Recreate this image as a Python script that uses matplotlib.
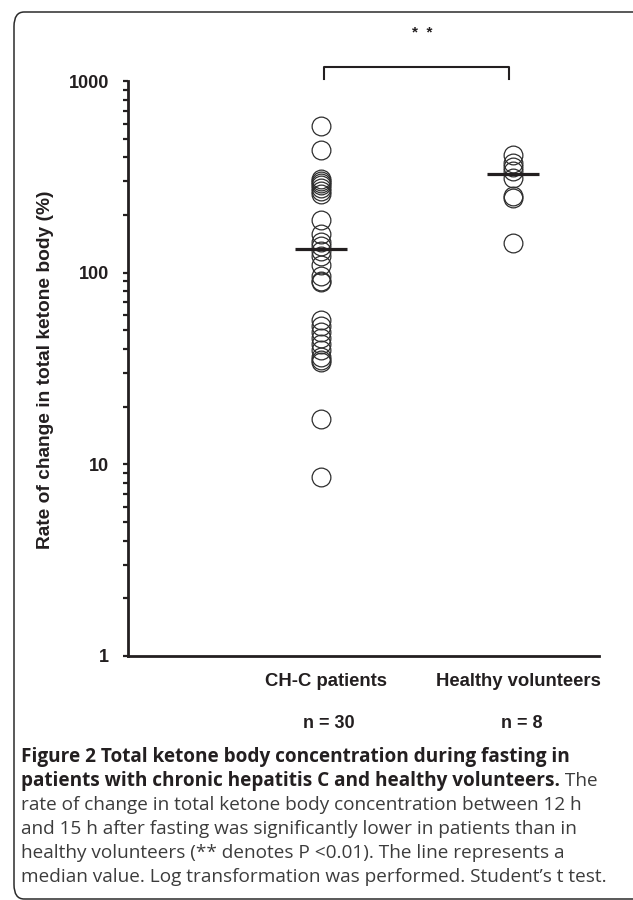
import numpy as np
import matplotlib
matplotlib.use('Agg')
import matplotlib.pyplot as plt
from matplotlib.patches import FancyBboxPatch

# values (rate of change, %)
groups = ['CH-C patients', 'Healthy volunteers']
group_n = ['n = 30', 'n = 8']
chc_values = [582, 436,
              308, 300, 293, 285, 276, 267, 257,
              188, 159, 144, 137, 130, 122, 109, 96, 91, 89,
              56.5, 52.6, 48.9, 45.5, 42.4, 39.4, 36.5, 35.0, 34.1,
              17.2, 8.55]
healthy_values = [411, 373, 356, 339, 311, 251, 245, 143]
medians = [133, 327]
y_ticks = [1, 10, 100, 1000]

caption_bold_1 = 'Figure 2 Total ketone body concentration during fasting in'
caption_bold_2 = 'patients with chronic hepatitis C and healthy volunteers.'
caption_rest = [' The',
                'rate of change in total ketone body concentration between 12 h',
                'and 15 h after fasting was significantly lower in patients than in',
                'healthy volunteers (** denotes P <0.01). The line represents a',
                'median value. Log transformation was performed. Student\u2019s t test.']

W, H = 633, 900
DARK = '#231f20'

plt.rcParams['font.family'] = ['Liberation Sans', 'DejaVu Sans']

fig = plt.figure(figsize=(W / 100, H / 100), dpi=100)


def fx(px):
    return px / W


def fy(py):
    return 1 - py / H


# rounded frame round the figure and caption
frame = FancyBboxPatch((fx(14), fy(899)), fx(650) - fx(14), fy(12) - fy(899),
                       boxstyle='round,pad=0,rounding_size=0.016',
                       transform=fig.transFigure, facecolor='none',
                       edgecolor='#2b2b2b', linewidth=1.1)
fig.patches.append(frame)

ax = fig.add_axes([fx(128), fy(656), fx(599) - fx(128), fy(81) - fy(656)])
ax.set_yscale('log')
ax.set_ylim(1, 1000)
ax.set_xlim(0, 2.445)

positions = [1, 2]
for pos, vals, med in zip(positions, [chc_values, healthy_values], medians):
    ax.plot([pos] * len(vals), vals, linestyle='none', marker='o', markersize=13.5,
            markerfacecolor='none', markeredgecolor='#2e2e2e', markeredgewidth=0.9,
            clip_on=False)
    ax.plot([pos - 0.135, pos + 0.135], [med, med], color=DARK, linewidth=2.3,
            solid_capstyle='butt', zorder=5)

# significance bracket
ax.plot([1.02, 1.02, 1.98, 1.98], [1024, 1183, 1183, 1024], color=DARK,
        linewidth=1.5, clip_on=False)
ax.text(1.53, 1780, '*  *', ha='center', va='center', fontsize=11,
        fontweight='bold', color=DARK)

for side in ['top', 'right']:
    ax.spines[side].set_visible(False)
for side in ['left', 'bottom']:
    ax.spines[side].set_linewidth(2.0)
    ax.spines[side].set_color(DARK)
    ax.spines[side].set_capstyle('projecting')

ax.set_yticks(y_ticks)
ax.set_yticklabels([str(t) for t in y_ticks])
ax.yaxis.set_minor_locator(matplotlib.ticker.LogLocator(base=10, subs=np.arange(2, 10)))
ax.yaxis.set_minor_formatter(matplotlib.ticker.NullFormatter())
ax.tick_params(axis='y', which='both', direction='out', length=3.5, width=1.6,
               color=DARK, labelsize=13, pad=10, labelcolor=DARK)
for lab in ax.get_yticklabels():
    lab.set_fontweight('bold')

ax.set_xticks([])
for pos, name, n in zip(positions, groups, group_n):
    ax.annotate(name, xy=(pos, 0), xycoords=('data', 'axes fraction'),
                xytext=(5, -25), textcoords='offset pixels', ha='center',
                va='center', fontsize=13.3, fontweight='bold', color=DARK)
    ax.annotate(n, xy=(pos, 0), xycoords=('data', 'axes fraction'),
                xytext=(8, -68), textcoords='offset pixels', ha='center',
                va='center', fontsize=13, fontweight='bold', color=DARK)

fig.text(fx(46), fy(370), 'Rate of change in total ketone body (%)', rotation=90,
         ha='center', va='center', fontsize=13.8, fontweight='bold', color=DARK)

# caption
cap_x = fx(21)
line_y = [757, 781, 805, 829, 853, 877]
cap_kw = dict(family=['Open Sans', 'DejaVu Sans'], fontsize=13.7, va='center', ha='left')
fig.text(cap_x, fy(line_y[0]), caption_bold_1, fontweight='bold', color=DARK, **cap_kw)
t2 = fig.text(cap_x, fy(line_y[1]), caption_bold_2, fontweight='bold', color=DARK, **cap_kw)
fig.canvas.draw()
bb = t2.get_window_extent()
fig.text(bb.x1 / W, fy(line_y[1]), caption_rest[0], color='#3c3c3c', **cap_kw)
for yy, line in zip(line_y[2:], caption_rest[1:]):
    fig.text(cap_x, fy(yy), line, color='#3c3c3c', **cap_kw)

fig.savefig('out.png', dpi=100)
